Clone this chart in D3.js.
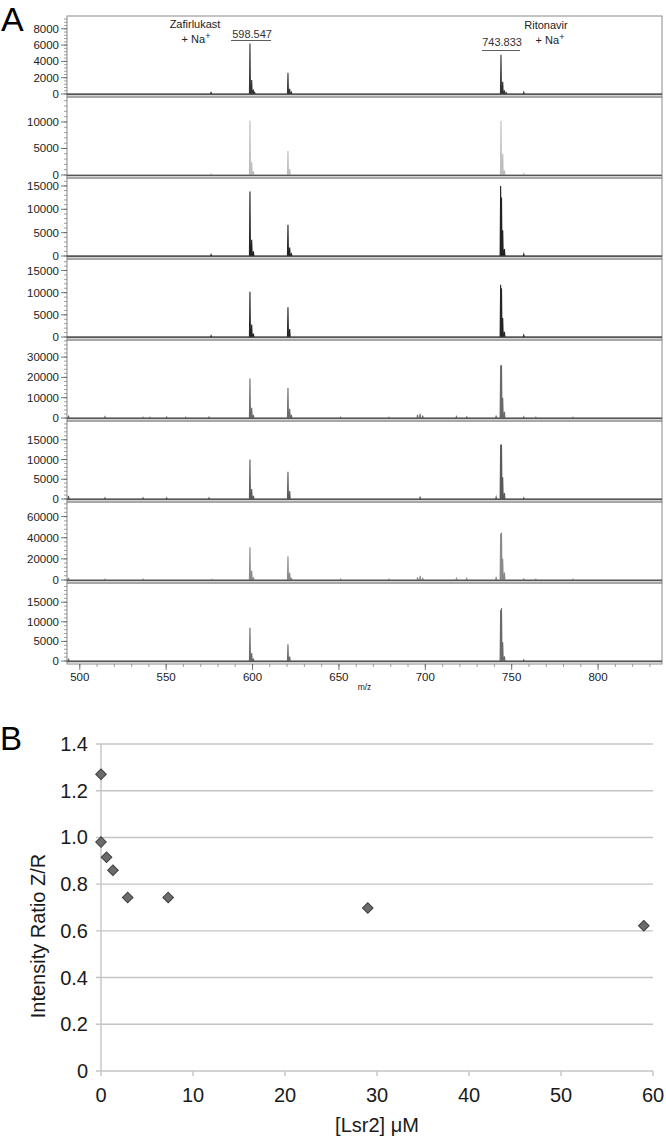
<!DOCTYPE html>
<html><head><meta charset="utf-8">
<script src="https://cdn.jsdelivr.net/npm/d3@7"></script>
<style>body{margin:0;background:#fff}svg{display:block}text{font-family:"Liberation Sans",Arial,sans-serif}</style>
</head><body><svg id="c" width="666" height="1138"></svg>
<script>
// ---------- DATA ----------
const mzTicks = [500, 550, 600, 650, 700, 750, 800];
const panelYMax = [9570, 14700, 16700, 17600, 38400, 19750, 73800, 19900];
const panelYTicks = [
  [0, 2000, 4000, 6000, 8000],
  [0, 5000, 10000],
  [0, 5000, 10000, 15000],
  [0, 5000, 10000, 15000],
  [0, 10000, 20000, 30000],
  [0, 5000, 10000, 15000],
  [0, 20000, 40000, 60000],
  [0, 5000, 10000, 15000]
];
const panelColors = ["#333", "#bdbdbd", "#222", "#262626", "#6a6a6a", "#5a5a5a", "#8a8a8a", "#6a6a6a"];
const spec1 = [[576,250],[598.5,6200],[599.5,1700],[600.5,550],[601.3,150],[620.5,2600],[621.5,650],[622.5,200],[743.8,4800],[744.8,1500],[745.8,450],[746.8,150],[757,200]];
const spec2 = [[576,200],[598.5,10200],[599.5,2500],[600.5,700],[620.5,4500],[621.5,1100],[743.8,10200],[744.8,4000],[745.8,900],[757,250]];
const spec3 = [[576,300],[598.5,13800],[599.5,3500],[600.5,1000],[620.5,6700],[621.5,1800],[622.5,400],[743.6,15000],[744.1,12500],[744.8,5500],[745.8,1500],[757,400]];
const spec4 = [[576,300],[598.5,10200],[599.5,2800],[600.5,800],[620.5,6700],[621.5,1800],[743.6,11800],[744.1,11000],[744.8,4300],[745.8,1200],[757,400]];
const spec5 = [[493.5,1200],[514.6,600],[536.6,400],[540.6,400],[550.3,500],[561.3,400],[574.8,500],[598.5,19500],[599.5,5000],[600.5,1500],[620.5,14800],[621.5,4500],[622.5,1500],[651,400],[679,400],[695.5,1500],[697,2000],[698.5,1200],[718,700],[724,600],[741,1200],[743.6,26000],[744.1,26000],[744.8,10000],[745.8,3000],[757,600],[764,400],[785.5,400]];
const spec6 = [[493.5,800],[514.6,300],[536.6,300],[550.3,300],[574.8,300],[598.5,10000],[599.5,2500],[600.5,800],[620.5,6900],[621.5,2000],[697,600],[741,500],[743.6,13800],[744.1,13800],[744.8,5500],[745.8,1500],[757,300]];
const spec7 = [[493.5,2000],[514.6,800],[536.6,800],[576.5,600],[598.5,31000],[599.5,9000],[600.5,2500],[620.5,22500],[621.5,7000],[622.5,2000],[651,800],[679,800],[695.5,2500],[697,4000],[698.5,2000],[718,1500],[724,1500],[741,3000],[743.6,44000],[744.1,45000],[744.8,20000],[745.8,7000],[757,1000],[764,800],[785.5,800]];
const spec8 = [[493.5,600],[598.5,8500],[599.5,2000],[600.5,600],[620.5,4300],[621.5,1100],[743.6,13000],[744.1,13500],[744.8,4800],[745.8,1200],[757,300]];
const spectra = [spec1, spec2, spec3, spec4, spec5, spec6, spec7, spec8];

const lsr2Conc = [0, 0, 0.6, 1.3, 2.9, 7.3, 29, 59];
const ratioZR = [1.27, 0.98, 0.915, 0.86, 0.743, 0.743, 0.698, 0.622];
const bXTicks = [0, 10, 20, 30, 40, 50, 60];
const bYTicks = [0, 0.2, 0.4, 0.6, 0.8, 1.0, 1.2, 1.4];

// ---------- PANEL A ----------
const svg = d3.select("#c");
const aL = 67, aR = 662, aTop = 16, pH = 81, baseOff = 78;
const x = d3.scaleLinear().domain([492.6, 837]).range([aL, aR]);

svg.append("text").attr("x", 1).attr("y", 31).attr("font-size", 34).text("A");

spectra.forEach((spec, i) => {
  const top = aTop + i * pH;
  const y = d3.scaleLinear().domain([0, panelYMax[i]]).range([top + baseOff, top]);
  const g = svg.append("g");
  g.append("rect").attr("x", aL).attr("y", top).attr("width", aR - aL).attr("height", pH)
    .attr("fill", "none").attr("stroke", "#8a8a8a").attr("stroke-width", 1);
  const pts = [[x.domain()[0], 0]];
  spec.slice().sort((a, b) => a[0] - b[0]).forEach(p => {
    pts.push([p[0] - 0.3, 0], [p[0], p[1]], [p[0] + 0.3, 0]);
  });
  pts.push([x.domain()[1], 0]);
  g.append("path").datum(pts)
    .attr("d", d3.line().x(d => x(d[0])).y(d => y(d[1])))
    .attr("fill", "none").attr("stroke", panelColors[i]).attr("stroke-width", 1.1);
  g.append("line").attr("x1", aL).attr("x2", aR).attr("y1", y(0) + 0.5).attr("y2", y(0) + 0.5)
    .attr("stroke", "#555").attr("stroke-width", 1.5);
  const ticks = panelYTicks[i];
  const step = ticks[1] - ticks[0];
  const minorStep = step / 5;
  const minors = d3.range(0, panelYMax[i], minorStep);
  g.selectAll(".mn").data(minors).join("line")
    .attr("x1", aL - 3).attr("x2", aL).attr("y1", d => y(d)).attr("y2", d => y(d))
    .attr("stroke", "#777").attr("stroke-width", 0.7);
  g.selectAll(".mj").data(ticks).join("line")
    .attr("x1", aL - 6).attr("x2", aL).attr("y1", d => y(d)).attr("y2", d => y(d))
    .attr("stroke", "#555").attr("stroke-width", 0.8);
  g.selectAll(".tl").data(ticks).join("text")
    .attr("x", aL - 8).attr("y", d => y(d) + 4).attr("text-anchor", "end")
    .attr("font-size", 11.5).attr("fill", "#222").text(d => d);
});

const aBot = aTop + 8 * pH;
svg.selectAll(".xmn").data(d3.range(500, 837, 10)).join("line")
  .attr("x1", d => x(d)).attr("x2", d => x(d)).attr("y1", aBot).attr("y2", aBot + 3)
  .attr("stroke", "#777").attr("stroke-width", 0.7);
svg.selectAll(".xmj").data(mzTicks).join("line")
  .attr("x1", d => x(d)).attr("x2", d => x(d)).attr("y1", aBot).attr("y2", aBot + 6)
  .attr("stroke", "#555").attr("stroke-width", 0.8);
svg.selectAll(".xtl").data(mzTicks).join("text")
  .attr("x", d => x(d)).attr("y", aBot + 17).attr("text-anchor", "middle")
  .attr("font-size", 11.5).attr("fill", "#222").text(d => d);
svg.append("text").attr("x", (aL + aR) / 2).attr("y", aBot + 26).attr("text-anchor", "middle")
  .attr("font-size", 8.5).attr("fill", "#222").text("m/z");

function naLabel(cx, by) {
  const t = svg.append("text").attr("x", cx).attr("y", by).attr("text-anchor", "middle")
    .attr("font-size", 11).attr("fill", "#222");
  t.append("tspan").text("+ Na");
  t.append("tspan").attr("dy", -4).attr("font-size", 9).text("+");
}
svg.append("text").attr("x", 195).attr("y", 28).attr("text-anchor", "middle").attr("font-size", 11).attr("fill", "#222").text("Zafirlukast");
naLabel(196, 43);
svg.append("text").attr("x", x(598.547) + 2).attr("y", 37.5).attr("text-anchor", "middle").attr("font-size", 11).attr("fill", "#333").text("598.547");
svg.append("line").attr("x1", x(598.547) - 19).attr("x2", x(598.547) + 21).attr("y1", 40.5).attr("y2", 40.5).attr("stroke", "#333").attr("stroke-width", 0.8);
svg.append("text").attr("x", 546).attr("y", 29).attr("text-anchor", "middle").attr("font-size", 11).attr("fill", "#222").text("Ritonavir");
naLabel(550, 44);
svg.append("text").attr("x", x(743.833) + 1).attr("y", 46).attr("text-anchor", "middle").attr("font-size", 11).attr("fill", "#333").text("743.833");
svg.append("line").attr("x1", x(743.833) - 19).attr("x2", x(743.833) + 19).attr("y1", 50.5).attr("y2", 50.5).attr("stroke", "#333").attr("stroke-width", 0.8);

// ---------- PANEL B ----------
const bx = d3.scaleLinear().domain([0, 60]).range([101, 653]);
const by = d3.scaleLinear().domain([0, 1.4]).range([1071, 744]);
svg.append("text").attr("x", 0).attr("y", 750).attr("font-size", 33).text("B");

svg.selectAll(".grid").data(bYTicks).join("line")
  .attr("x1", 96).attr("x2", 653).attr("y1", d => by(d)).attr("y2", d => by(d))
  .attr("stroke", "#c4c4c4").attr("stroke-width", 1.4);
svg.append("line").attr("x1", 101).attr("x2", 101).attr("y1", 744).attr("y2", 1071)
  .attr("stroke", "#c4c4c4").attr("stroke-width", 1.4);
svg.selectAll(".bxt").data(bXTicks).join("line")
  .attr("x1", d => bx(d)).attr("x2", d => bx(d)).attr("y1", 1071).attr("y2", 1076)
  .attr("stroke", "#c4c4c4").attr("stroke-width", 1.4);
svg.selectAll(".byl").data(bYTicks).join("text")
  .attr("x", 88).attr("y", d => by(d) + 7).attr("text-anchor", "end")
  .attr("font-size", 20).attr("fill", "#1a1a1a").text(d => d === 0 ? "0" : d.toFixed(1));
svg.selectAll(".bxl").data(bXTicks).join("text")
  .attr("x", d => bx(d)).attr("y", 1102).attr("text-anchor", "middle")
  .attr("font-size", 20).attr("fill", "#1a1a1a").text(d => d);
svg.append("text").attr("x", 377).attr("y", 1132).attr("text-anchor", "middle")
  .attr("font-size", 20).attr("fill", "#1a1a1a").text("[Lsr2] μM");
svg.append("text").attr("transform", "translate(45,936) rotate(-90)").attr("text-anchor", "middle")
  .attr("font-size", 20).attr("fill", "#1a1a1a").text("Intensity Ratio Z/R");

const pts = lsr2Conc.map((c, i) => [c, ratioZR[i]]);
svg.selectAll(".pt").data(pts).join("path")
  .attr("d", d3.symbol(d3.symbolSquare, 56)())
  .attr("transform", d => `translate(${bx(d[0])},${by(d[1])}) rotate(45)`)
  .attr("fill", "#6b6b6b").attr("stroke", "#3e3e3e").attr("stroke-width", 1);
</script></body></html>
